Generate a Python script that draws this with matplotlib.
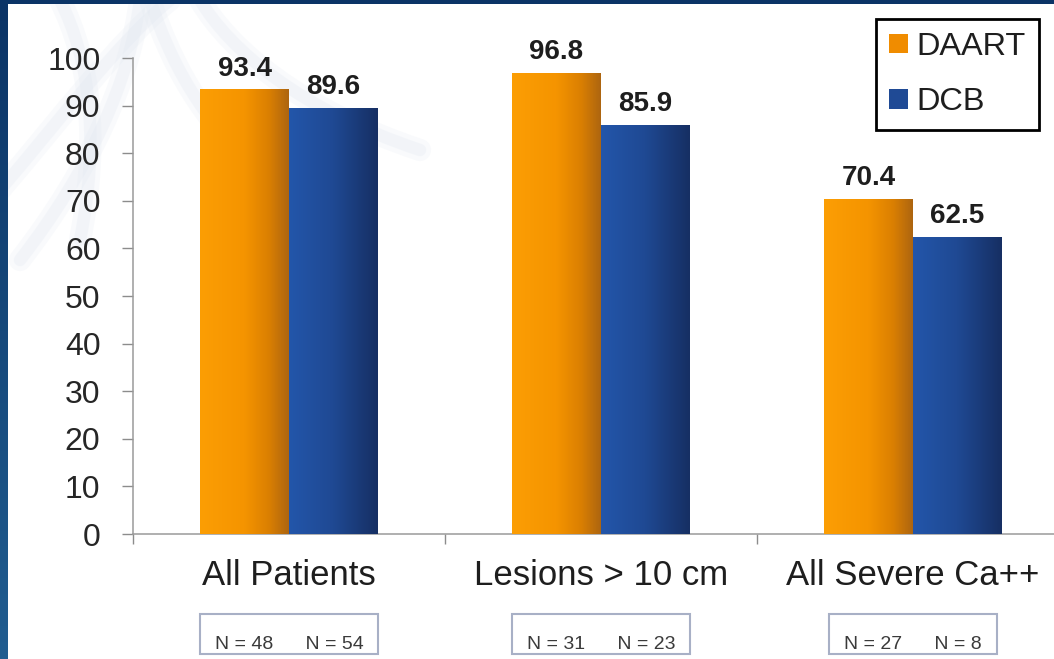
import numpy as np
import matplotlib
matplotlib.use("Agg")
import matplotlib.pyplot as plt
import matplotlib.transforms as mtransforms
from matplotlib.colors import LinearSegmentedColormap
from matplotlib.patches import Rectangle, Patch, PathPatch
from matplotlib.path import Path

# ---- data ----
categories = ["All Patients", "Lesions > 10 cm", "All Severe Ca++"]
series_names = ["DAART", "DCB"]
daart = [93.4, 96.8, 70.4]
dcb = [89.6, 85.9, 62.5]
n_daart = [48, 31, 27]
n_dcb = [54, 23, 8]
yticks = list(range(0, 101, 10))

plt.rcParams['font.family'] = ['Liberation Sans', 'DejaVu Sans']

W, H = 1054, 659
fig = plt.figure(figsize=(W / 100, H / 100), dpi=100, facecolor='white')

# pixel -> figure transform (origin top-left) for the slide decoration
px = mtransforms.Affine2D().scale(1 / W, -1 / H).translate(0, 1) + fig.transFigure

# faint fibre artwork in the slide background
fibres = [
    [(0, 190), (60, 120), (120, 40), (170, 0)],
    [(20, 260), (90, 170), (130, 80), (140, 0)],
    [(150, 0), (170, 60), (200, 120), (260, 170)],
    [(200, 0), (230, 50), (300, 110), (420, 150)],
    [(60, 0), (90, 60), (100, 140), (80, 240)],
]
for pts in fibres:
    path = Path(pts, [Path.MOVETO, Path.CURVE4, Path.CURVE4, Path.CURVE4])
    for lw, a in ((16, 0.18), (9, 0.25)):
        fig.patches.append(PathPatch(path, transform=px, fill=False,
                                     edgecolor='#dfe6f0', lw=lw, alpha=a,
                                     capstyle='round', zorder=-2))

# slide frame: navy strip on top, graded strip on the left
fig.patches.append(Rectangle((0, 0), W, 4, transform=px, facecolor='#0b3466',
                             edgecolor='none', zorder=1))
frame_ax = fig.add_axes([0, 0, 8 / W, 1 - 4 / H])
frame_ax.imshow(np.linspace(0, 1, 256).reshape(-1, 1), aspect='auto',
                cmap=LinearSegmentedColormap.from_list('frame', ['#0b3466', '#215d90']))
frame_ax.set_axis_off()

# ---- chart ----
ax = fig.add_axes([133 / W, 1 - 534 / H, 936 / W, 476 / H])
ax.set_facecolor('none')

x = np.arange(len(categories))
bw = 0.285
bars_a = ax.bar(x - bw / 2, daart, bw, color='#f29200', zorder=3)
bars_b = ax.bar(x + bw / 2, dcb, bw, color='#1f4a95', zorder=3)

orange = LinearSegmentedColormap.from_list(
    'orange', [(0, '#fc9e04'), (0.5, '#f59400'), (0.78, '#da7f02'), (1, '#ad6510')])
blue = LinearSegmentedColormap.from_list(
    'blue', [(0, '#2356aa'), (0.5, '#1f4993'), (1, '#162f63')])
grad = np.linspace(0, 1, 256).reshape(1, -1)
for bars, cmap in ((bars_a, orange), (bars_b, blue)):
    for r in bars:
        x0, y0, w, h = r.get_x(), r.get_y(), r.get_width(), r.get_height()
        im = ax.imshow(grad, cmap=cmap, extent=(x0, x0 + w, y0, y0 + h),
                       aspect='auto', zorder=4, interpolation='bilinear')
        im.set_clip_path(r)

# value labels
for bars, vals in ((bars_a, daart), (bars_b, dcb)):
    for r, v in zip(bars, vals):
        ax.annotate(f"{v:.1f}", (r.get_x() + r.get_width() / 2, v),
                    xytext=(0, 10), textcoords='offset points',
                    ha='center', va='baseline', fontsize=20,
                    fontweight='bold', color='#1e1e1e', zorder=5)

ax.set_xlim(-0.5, 2.5)
ax.set_ylim(0, 100)
ax.set_yticks(yticks)
ax.set_xticks(np.arange(len(categories) + 1) - 0.5)
ax.set_xticklabels([])
ax.tick_params(axis='y', length=7.9, width=1, color='#8c8c8c', pad=15.5,
               labelsize=23, labelcolor='#262626')
ax.tick_params(axis='x', length=7.2, width=1, color='#8c8c8c')
for s in ('top', 'right'):
    ax.spines[s].set_visible(False)
for s in ('left', 'bottom'):
    ax.spines[s].set_color('#9a9a9a')
    ax.spines[s].set_linewidth(1.1)

blend = mtransforms.blended_transform_factory(ax.transData, ax.transAxes)
for xi, cat in zip(x, categories):
    ax.text(xi, -0.107, cat, transform=blend, ha='center', va='baseline',
            fontsize=25, color='#1e1e1e')

n_texts = []
for xi, a, b in zip(x, n_daart, n_dcb):
    n_texts.append(ax.text(xi, -0.2416, f"N = {a}      N = {b}", transform=blend,
                           ha='center', va='baseline', fontsize=14,
                           color='#3a3a3a'))

handles = [Patch(facecolor='#f08c00'), Patch(facecolor='#1f4a95')]
leg = ax.legend(handles, series_names, loc='upper right',
                bbox_to_anchor=(1039 / W, 1 - 19 / H), bbox_transform=fig.transFigure,
                frameon=True, fancybox=False, edgecolor='black', framealpha=1,
                fontsize=23.4, handlelength=0.56, handleheight=0.56,
                handletextpad=0.28, labelspacing=0.78, borderpad=0.4,
                borderaxespad=0)
leg.get_frame().set_linewidth(2)
for t in leg.get_texts():
    t.set_color('#1e1e1e')

# boxes around the sample-size captions
fig.canvas.draw()
renderer = fig.canvas.get_renderer()
inv = fig.transFigure.inverted()
for t in n_texts:
    bb = t.get_window_extent(renderer)
    x0, x1 = bb.x0 - 15, bb.x1 + 15
    y_top, y_bot = H - 614, H - 654
    (fx0, fy0), (fx1, fy1) = inv.transform([(x0, y_bot), (x1, y_top)])
    fig.patches.append(Rectangle((fx0, fy0), fx1 - fx0, fy1 - fy0,
                                 transform=fig.transFigure, fill=False,
                                 edgecolor='#a8b0c6', lw=1.5, zorder=2))

fig.savefig('out.png', dpi=100, facecolor=fig.get_facecolor())
